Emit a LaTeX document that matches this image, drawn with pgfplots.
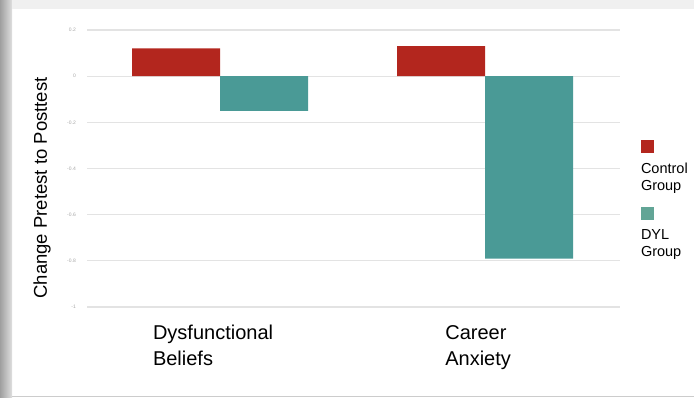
\documentclass[border=0pt]{standalone}
\usepackage{pgfplots}
\pgfplotsset{compat=1.18}
\usepackage{fontspec}
\setmainfont{Liberation Sans}
\definecolor{ctrl}{HTML}{B3261E}
\definecolor{dyl}{HTML}{4A9A96}
\definecolor{dylleg}{HTML}{62A596}
\begin{document}
\begin{tikzpicture}[x=1bp,y=1bp]
\path[use as bounding box] (0,0) rectangle (694,397);
\shade[left color=gray!75, right color=gray!25] (0,0) rectangle (12,397);
\fill[gray!12] (12,388) rectangle (694,397);
\fill[gray!40] (12,0) rectangle (694,1.5);
\begin{axis}[
  at={(87bp,90bp)}, anchor=south west,
  scale only axis, width=533bp, height=277bp,
  xmin=-0.502, xmax=1.509, ymin=-1, ymax=0.2,
  axis line style={draw=none},
  major tick length=0pt,
  ytick={-1,-0.8,...,0.2},
  ymajorgrids, major grid style={draw=gray!22, line width=1.3bp},
  yticklabel style={font=\fontsize{5}{6}\selectfont, text=gray!70, inner sep=0pt, xshift=-11bp},
  /pgf/number format/assume math mode=true,
  xtick={0,1}, xticklabels={Dysfunctional\\Beliefs, Career\\Anxiety},
  xticklabel style={font=\fontsize{20bp}{26bp}\selectfont, align=left, inner sep=0pt, anchor=north, yshift=-18bp, xshift=-7bp},
  bar width=0.332,
  legend image code/.code={},
  legend style={draw=none, fill=none, at={(1.039,0.603)}, anchor=north west, inner sep=0pt,
    nodes={align=left, inner sep=0pt, font=\fontsize{14.5bp}{17bp}\selectfont}, row sep=15bp, column sep=0pt},
  legend cell align=left,
]
\addplot[ybar, bar shift=-0.166, fill=ctrl, draw=none] coordinates {(0,0.12) (1,0.13)};
\addlegendentry{\textcolor{ctrl}{\rule{13bp}{13bp}}\\[3bp]Control\\Group}
\addplot[ybar, bar shift=0.166, fill=dyl, draw=none] coordinates {(0,-0.15) (1,-0.79)};
\addlegendentry{\textcolor{dylleg}{\rule{13bp}{13bp}}\\[3bp]DYL\\Group}
\end{axis}
\node[rotate=90, font=\fontsize{18.5bp}{22bp}\selectfont] at (42,209) {Change Pretest to Posttest};
\end{tikzpicture}
\end{document}
